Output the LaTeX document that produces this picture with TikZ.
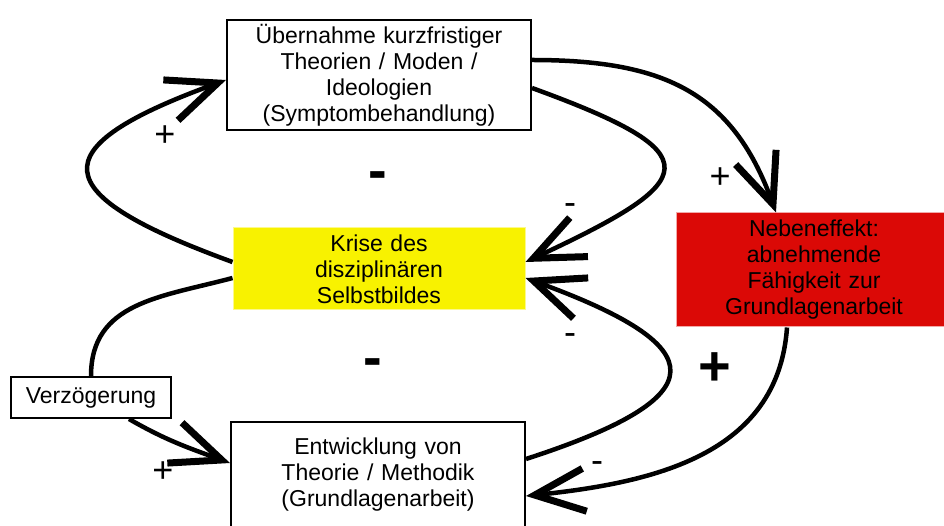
\documentclass[tikz,border=0pt]{standalone}
\usepackage{fontspec}
\setmainfont{Liberation Sans}
\usepackage{tikz}
\usetikzlibrary{arrows.meta,positioning}
\definecolor{krisegelb}{RGB}{248,242,0}
\definecolor{nebenrot}{RGB}{219,9,6}
\tikzset{
    block/.style={rectangle, draw, line width=2pt, fill=white, text centered, inner sep=4pt, font=\fontsize{23}{26}\selectfont},
    line/.style={draw, line width=4.5pt, -{Straight Barb[length=50pt, width=43pt, line width=7pt 0]}},
    link/.style={draw, line width=4.5pt},
    sign/.style={font=\fontsize{36}{36}\selectfont},
    bigsign/.style={font=\fontsize{56}{56}\selectfont\bfseries}
}

\begin{document}
\begin{tikzpicture}[x=1pt, y=1pt]
    \useasboundingbox (0,0) rectangle (944,525);
    % Symptom Box
    \node [block, text width=296pt, minimum height=110pt] (uebernahme) at (379,450) {Übernahme kurzfristiger\\Theorien / Moden /\\Ideologien\\(Symptombehandlung)};
    
    % Krisen Box
    \node [block, draw=krisegelb!45, line width=1pt, fill=krisegelb, text width=284pt, minimum height=82pt] (krise) at (379,256) {Krise des\\disziplinären\\Selbstbildes\hspace*{-6pt}};
    
    % Nebeneffekt Box
    \node [block, draw=nebenrot!35, line width=1pt, fill=nebenrot, text width=268pt, minimum height=114pt] (neben) at (814,255) {Nebeneffekt:\\abnehmende\\Fähigkeit zur\\Grundlagenarbeit};
    
    % Verzoegerung
    \node [block, text width=156pt, minimum height=41pt, inner sep=2pt] (verz) at (91,127.5) {Verzögerung};
    
    % Grundlagen Box
    \node [block, text width=286pt, minimum height=106pt] (entw) at (378,50) {Entwicklung von\\Theorie / Methodik\\(Grundlagenarbeit)};
    
    % Connections
    \path [line] ([yshift=7pt]krise.west) to[out=160, in=200, looseness=2.8] ([yshift=-5pt]uebernahme.west);
    \path [line] ([yshift=-13pt]uebernahme.east) to[out=-20, in=25, looseness=2.85] ([yshift=7pt]krise.east);
    \path [line] ([yshift=16pt]entw.east) to[out=18, in=-20, looseness=2.85] ([yshift=-9pt]krise.east);
    \path [link] ([yshift=-9pt]krise.west) to[out=195, in=90, looseness=1.1] (verz.north);
    \path [line] ([xshift=38pt]verz.south) to[out=-30, in=160] ([yshift=12pt]entw.west);
    \path [line] ([yshift=15pt]uebernahme.east) to[out=0, in=110, looseness=1.15] ([xshift=-38pt]neben.north);
    \path [line] ([xshift=-27pt]neben.south) to[out=266, in=6, looseness=1.05] ([yshift=-21pt]entw.east);
    
    % Signs
    \node [sign] (plusoben) at (165,389) {+};
    \node [sign] (minusoben) at (570,316) {-};
    \node [sign] (minusmitte) at (570,186) {-};
    \node [sign] (plusunten) at (163,53) {+};
    \node [sign] (plusneben) at (720,347) {+};
    \node [sign] (minusneben) at (597,58) {-};
    \node [bigsign] (minusgross) at (378,344) {-};
    \node [bigsign] (minusklein) at (373,157) {-};
    \node [bigsign] (plusgross) at (715,156) {+};
\end{tikzpicture}
\end{document}
